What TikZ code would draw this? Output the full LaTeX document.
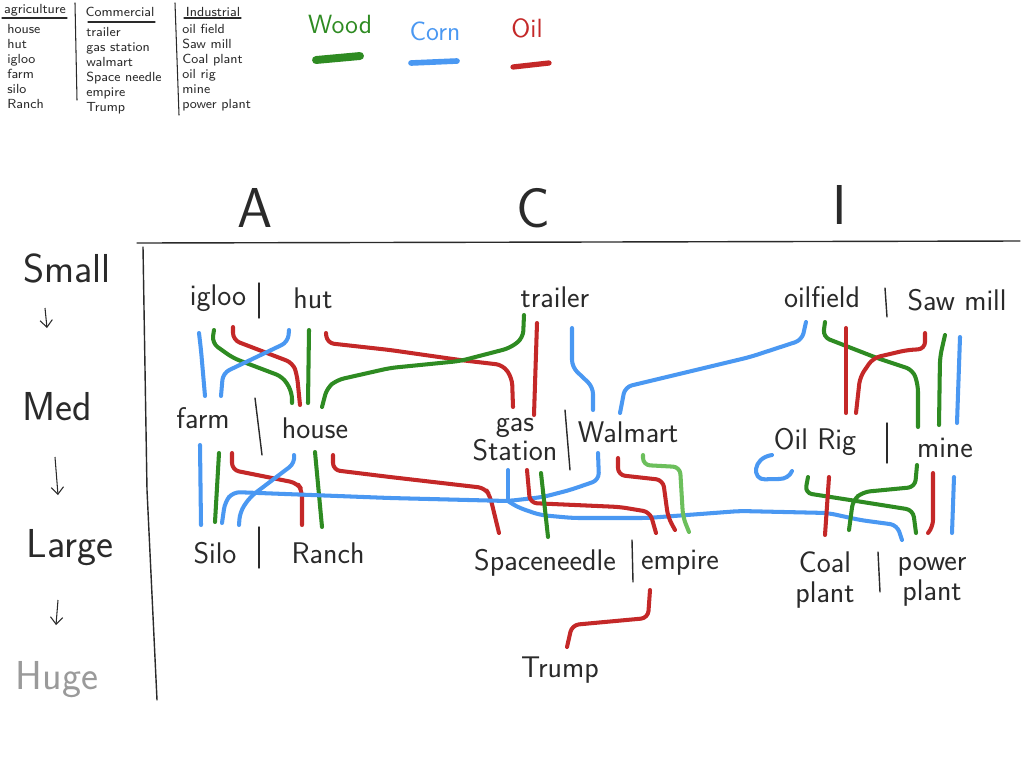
\documentclass[tikz,border=0pt]{standalone}
\usepackage{tikz}
\usetikzlibrary{arrows.meta, calc}
\usepackage{xcolor}
\definecolor{woodgreen}{HTML}{2E8B22}
\definecolor{cornblue}{HTML}{4A98F2}
\definecolor{oilred}{HTML}{C42828}
\definecolor{palegreen}{HTML}{6CBF5C}
\definecolor{pencil}{HTML}{2A2A2A}
\definecolor{faintgray}{HTML}{9A9A9A}

\tikzset{
  site/.style={font=\sffamily\fontsize{17}{15}\selectfont, text=pencil, inner sep=1pt, align=center},
  colhead/.style={font=\sffamily\fontsize{32}{32}\selectfont, text=pencil, inner sep=0pt},
  rowhead/.style={font=\sffamily\fontsize{23}{23}\selectfont, text=pencil, inner sep=0pt},
  keyhead/.style={font=\sffamily\fontsize{7.5}{8.5}\selectfont, text=pencil, inner sep=0pt},
  keylist/.style={font=\sffamily\fontsize{7.5}{8.5}\selectfont, text=pencil, inner sep=0pt, align=left, anchor=north west},
  keytext/.style={font=\sffamily\fontsize{15}{15}\selectfont, inner sep=0pt},
  rule/.style={draw=pencil, line width=0.8pt, line cap=round},
  rowarrow/.style={draw=pencil, line width=0.6pt, -{Straight Barb[length=4pt,width=7pt]}},
  resource/.style={line width=2.3pt, line cap=round, line join=round, rounded corners=4pt},
  woodline/.style={resource, draw=woodgreen},
  cornline/.style={resource, draw=cornblue},
  oilline/.style={resource, draw=oilred},
  paleline/.style={resource, draw=palegreen}
}

\begin{document}
\begin{tikzpicture}[x=0.02cm, y=-0.02cm]
  \fill[white] (0,0) rectangle (1024,768);
  \useasboundingbox (0,0) rectangle (1024,768);

  % building list
  \node[keyhead] (agrihead) at (35,10) {agriculture};
  \draw[rule, line width=0.6pt] (2,18) -- (67,18);
  \node[keylist] (agrilist) at (7,24) {house\\hut\\igloo\\farm\\silo\\Ranch};
  \draw[rule, line width=0.6pt] (75,3) -- (77,100);
  \node[keyhead] (commhead) at (120,12) {Commercial};
  \draw[rule, line width=0.6pt] (88,22) -- (155,22);
  \node[keylist] (commlist) at (86,27) {trailer\\gas station\\walmart\\Space needle\\empire\\Trump};
  \draw[rule, line width=0.6pt] (175,3) -- (179,115);
  \node[keyhead] (indhead) at (213,12) {Industrial};
  \draw[rule, line width=0.6pt] (184,18) -- (241,18);
  \node[keylist] (indlist) at (182,24) {oil field\\Saw mill\\Coal plant\\oil rig\\mine\\power plant};

  % resource key
  \node[keytext, text=woodgreen] (woodkey) at (340,24) {Wood};
  \draw[woodgreen, line width=4.5pt, line cap=round] (316,60) -- (360,56);
  \node[keytext, text=cornblue] (cornkey) at (435,31) {Corn};
  \draw[cornblue, line width=3.2pt, line cap=round] (411,63) -- (457,61);
  \node[keytext, text=oilred] (oilkey) at (527,28) {Oil};
  \draw[oilred, line width=3pt, line cap=round] (513,67) -- (549,63);

  % grid
  \node[colhead] (colA) at (255,208) {A};
  \node[colhead] (colC) at (533,208) {C};
  \node[colhead] (colI) at (840,205) {I};
  \draw[rule] (137,243) -- (600,242) -- (1020,241);
  \draw[rule] (143,247) -- (147,490) -- (157,700);

  % sizes
  \node[rowhead] (small) at (67,268) {Small};
  \node[rowhead] (med) at (57,407) {Med};
  \node[rowhead] (large) at (70,548) {Large};
  \node[rowhead, text=faintgray] (huge) at (57,680) {Huge};
  \draw[rowarrow] ($(small)+(-22,40)$) -- ($(small)+(-20,60)$);
  \draw[rowarrow] ($(med)+(-2,50)$) -- ($(med)+(1,88)$);
  \draw[rowarrow] ($(large)+(-12,52)$) -- ($(large)+(-14,77)$);

  % small
  \node[site] (igloo) at (218,298) {igloo};
  \node[site] (hut) at (313,298) {hut};
  \draw[rule] (259,283) -- (259,318);
  \node[site] (trailer) at (555,297) {trailer};
  \node[site] (oilfield) at (822,297) {oilfield};
  \node[site] (sawmill) at (957,300) {Saw mill};
  \draw[rule] (885,288) -- (887,317);

  % med
  \node[site] (farm) at (203,418) {farm};
  \node[site] (house) at (315,428) {house};
  \draw[rule] (255,398) -- (262,455);
  \node[site] (gas) at (515,440) {gas\\Station};
  \node[site] (walmart) at (628,432) {Walmart};
  \draw[rule] (565,410) -- (570,470);
  \node[site] (oilrig) at (815,442) {Oil Rig};
  \node[site] (mine) at (945,448) {mine};
  \draw[rule] (887,423) -- (887,463);

  % large
  \node[site] (silo) at (215,553) {Silo};
  \node[site] (ranch) at (328,553) {Ranch};
  \draw[rule] (259,527) -- (259,568);
  \node[site] (spaceneedle) at (545,563) {Spaceneedle};
  \node[site] (empire) at (680,563) {empire};
  \draw[rule] (632,540) -- (633,582);
  \node[site, font=\sffamily\fontsize{17}{17}\selectfont] (coal) at (825,580) {Coal\\plant};
  \node[site, font=\sffamily\fontsize{17}{17}\selectfont] (power) at (932,582) {power\\plant};
  \draw[rule] (878,552) -- (880,592);

  % huge
  \node[site] (trump) at (560,670) {Trump};

  % A: small -> med
  \draw[cornline] ($(igloo)+(-19,35)$) -- (201,350) -- ($(farm)+(2,-22)$);
  \draw[woodline] ($(igloo)+(-4,32)$) -- (212,343) -- (233,358) -- (283,377) -- (292,392) -- ($(house)+(-23,-25)$);
  \draw[oilline] ($(igloo)+(15,29)$) -- (233,340) -- (293,363) -- (297,375) -- ($(house)+(-15,-23)$);
  \draw[cornline] ($(hut)+(-24,32)$) -- (288,342) -- (223,373) -- ($(farm)+(18,-22)$);
  \draw[woodline] ($(hut)+(-4,32)$) -- ($(house)+(-7,-25)$);
  \draw[oilline] ($(hut)+(13,35)$) -- (327,343) -- (390,350) -- (460,360) -- (503,365) -- (512,378) -- ($(gas)+(-2,-33)$);
  % C: small -> med
  \draw[woodline] ($(trailer)+(-31,18)$) -- (523,338) -- (510,348) -- (460,361) -- (390,368) -- (337,380) -- (327,388) -- ($(house)+(7,-21)$);
  \draw[oilline] ($(trailer)+(-18,26)$) -- ($(gas)+(19,-25)$);
  \draw[cornline] ($(trailer)+(17,31)$) -- (572,367) -- (593,387) -- ($(walmart)+(-35,-22)$);
  \draw[cornline] ($(oilfield)+(-16,25)$) -- (802,340) -- (750,357) -- (625,387) -- ($(walmart)+(-8,-19)$);
  % I: small -> med
  \draw[woodline] ($(oilfield)+(3,25)$) -- (823,337) -- (877,358) -- (913,370) -- (918,385) -- ($(mine)+(-27,-21)$);
  \draw[oilline] ($(oilfield)+(24,31)$) -- ($(oilrig)+(31,-29)$);
  \draw[oilline] ($(sawmill)+(-32,33)$) -- (925,349) -- (907,350) -- (873,358) -- (860,377) -- ($(oilrig)+(41,-29)$);
  \draw[woodline] ($(sawmill)+(-12,35)$) -- (940,357) -- ($(mine)+(-6,-23)$);
  \draw[cornline] ($(sawmill)+(3,37)$) -- ($(mine)+(12,-25)$);

  % A: med -> large
  \draw[cornline] ($(farm)+(-3,27)$) -- ($(silo)+(-14,-28)$);
  \draw[woodline] ($(farm)+(16,35)$) -- ($(silo)+(0,-31)$);
  \draw[oilline] ($(farm)+(29,35)$) -- (232,470) -- (297,483) -- (302,490) -- ($(ranch)+(-26,-28)$);
  \draw[cornline] ($(house)+(-21,27)$) -- (295,463) -- (283,472) -- (250,497) -- (240,512) -- ($(silo)+(24,-28)$);
  \draw[woodline] ($(house)+(0,24)$) -- ($(ranch)+(-6,-26)$);
  \draw[oilline] ($(house)+(18,27)$) -- (333,470) -- (390,477) -- (485,488) -- (490,496) -- ($(spaceneedle)+(-46,-30)$);
  % C: med -> large
  \coordinate (fork) at (508,501);
  \draw[cornline] ($(walmart)+(-30,21)$) -- (599,480) -- (570,490) -- (543,497) -- (fork) -- (390,498) -- (233,492) -- (225,502) -- ($(silo)+(7,-30)$);
  \draw[cornline] ($(gas)+(-7,30)$) -- (fork);
  \draw[cornline] (fork) -- (517,507) -- (540,515) -- (573,518) -- (647,518) -- (740,511) -- (828,513) -- (860,520) -- (897,525) -- ($(power)+(-30,-42)$);
  \draw[oilline] ($(gas)+(12,30)$) -- (530,503) -- (620,507) -- (650,512) -- ($(empire)+(-24,-30)$);
  \draw[woodline] ($(gas)+(26,33)$) -- ($(spaceneedle)+(3,-26)$);
  \draw[oilline] ($(walmart)+(-10,26)$) -- (618,475) -- (663,480) -- (668,517) -- ($(empire)+(-5,-33)$);
  \draw[paleline] ($(walmart)+(15,23)$) -- (643,465) -- (680,467) -- (683,517) -- ($(empire)+(9,-31)$);
  \draw[oilline] ($(empire)+(-30,27)$) -- (648,618) -- (572,625) -- ($(trump)+(7,-23)$);
  % I: med -> large
  \draw[cornline] (772,455) .. controls (752,458) and (752,480) .. (772,479) .. controls (785,479) and (790,476) .. (792,471);
  \draw[woodline] ($(oilrig)+(-7,35)$) -- (805,493) -- (850,500) -- (913,510) -- ($(power)+(-16,-49)$);
  \draw[oilline] ($(oilrig)+(14,35)$) -- ($(coal)+(0,-45)$);
  \draw[woodline] ($(mine)+(-28,17)$) -- (915,487) -- (863,492) -- (853,500) -- ($(coal)+(24,-50)$);
  \draw[oilline] ($(mine)+(-12,25)$) -- (933,527) -- ($(power)+(-4,-49)$);
  \draw[cornline] ($(mine)+(9,29)$) -- ($(power)+(20,-49)$);
\end{tikzpicture}
\end{document}
